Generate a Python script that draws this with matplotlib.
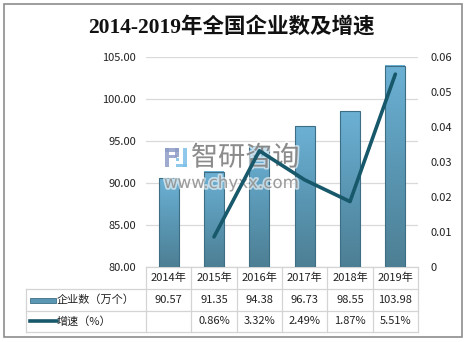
import numpy as np
import matplotlib.pyplot as plt
import matplotlib.patheffects as pe
from matplotlib.patches import Rectangle
from matplotlib.lines import Line2D
from matplotlib.colors import LinearSegmentedColormap

plt.rcParams['font.family'] = ['Noto Sans CJK SC', 'DejaVu Sans']

years = ['2014年', '2015年', '2016年', '2017年', '2018年', '2019年']
companies = [90.57, 91.35, 94.38, 96.73, 98.55, 103.98]   # 万个
growth = [None, 0.86, 3.32, 2.49, 1.87, 5.51]             # %
row_labels = ['企业数（万个）', '增速（%）']
title = '2014-2019年全国企业数及增速'

W, H = 466, 342
fig = plt.figure(figsize=(W / 100, H / 100), dpi=100)


def pixel_axes():
    a = fig.add_axes([0, 0, 1, 1])
    a.set_xlim(0, W)
    a.set_ylim(H, 0)
    a.axis('off')
    a.patch.set_alpha(0)
    return a


# pixel-space layer for frame, title and the data table
bg = pixel_axes()
bg.add_patch(Rectangle((3.5, 3.5), 458, 333, fill=False, ec='#8c8c8c', lw=1.2))
bg.text(231, 27, title, ha='center', va='center', fontsize=15.5, fontweight='bold',
        family=['Liberation Serif', 'Noto Sans CJK SC'], color='#111111')

left, right, top, bottom = 146, 418, 57, 267
ax = fig.add_axes([left / W, 1 - bottom / H, (right - left) / W, (bottom - top) / H])
ax.patch.set_alpha(0)

x = np.arange(len(years))
bars = ax.bar(x, companies, width=0.44, color='none', edgecolor='#3d6e83', lw=0.8, zorder=3)

# vertical gradient inside every bar
cmap = LinearSegmentedColormap.from_list('bar', ['#4d7f94', '#5a97b4', '#6cb1d5'])
grad = np.linspace(0, 1, 256).reshape(-1, 1)
for b in bars:
    ax.imshow(grad, cmap=cmap, origin='lower', aspect='auto', zorder=2,
              extent=(b.get_x(), b.get_x() + b.get_width(), 80, b.get_height()))

ax.set_xlim(-0.5, len(years) - 0.5)
ax.set_ylim(80, 105)
ax.set_yticks(np.arange(80, 106, 5))
ax.set_yticklabels([f'{v:.2f}' for v in np.arange(80, 106, 5)])
ax.set_xticks([])
ax.grid(axis='y', color='#d9d9d9', lw=0.9, zorder=0)
ax.tick_params(axis='y', length=0, pad=7, labelsize=8, labelcolor='#222222')
for s in ax.spines.values():
    s.set_visible(False)

# watermark layer, above the bars and below the growth line
wm = pixel_axes()
halo = [pe.withStroke(linewidth=2.5, foreground='white', alpha=0.6)]
gray_c, blue_c = '#8d9cc6', '#7cbfe8'
for rx, ry, rw, rh, c in [(165, 148, 4, 19, gray_c), (165, 148, 14, 3.5, gray_c),
                          (175, 148, 4, 9, gray_c), (169, 154.5, 8, 3, gray_c),
                          (183, 148, 4, 19, blue_c), (176, 163.5, 11, 3.5, blue_c),
                          (176, 158, 3, 3, blue_c)]:
    wm.add_patch(Rectangle((rx, ry), rw, rh, color=c, alpha=0.85, lw=0))
wm.text(191, 158, '智研咨询', fontsize=19.5, color='#7d7d7d', alpha=0.85,
        ha='left', va='center', path_effects=halo)
wm.text(164, 183, 'www.chyxx.com', fontsize=12, family='DejaVu Sans', color='#858585',
        alpha=0.75, ha='left', va='center', path_effects=halo)

ax2 = ax.twinx()
gx = [i for i, g in enumerate(growth) if g is not None]
gy = [growth[i] / 100 for i in gx]
ax2.plot(gx, gy, color='#17586b', lw=2.6, solid_capstyle='round', zorder=5)
ax2.set_ylim(0, 0.06)
ax2.set_yticks(np.arange(0, 0.061, 0.01))
ax2.set_yticklabels(['0'] + [f'{v:.2f}' for v in np.arange(0.01, 0.061, 0.01)])
ax2.tick_params(axis='y', length=0, pad=9, labelsize=8, labelcolor='#222222')
for s in ax2.spines.values():
    s.set_visible(False)

# data table below the plot
line_c = '#d4d4d4'
col_w = (right - left) / len(years)
rows_y = [267, 289, 311, 332]
bg.plot([left, right], [rows_y[0]] * 2, color=line_c, lw=0.9)
for yy in rows_y[1:]:
    bg.plot([26, right], [yy, yy], color=line_c, lw=0.9)
bg.plot([26, 26], [rows_y[1], rows_y[3]], color=line_c, lw=0.9)
for i in range(len(years) + 1):
    xx = left + i * col_w
    bg.plot([xx, xx], [rows_y[0], rows_y[3]], color=line_c, lw=0.9)

for i, yr in enumerate(years):
    cx = left + (i + 0.5) * col_w
    bg.text(cx, 278, yr, ha='center', va='center', fontsize=8, color='#222222')
    bg.text(cx, 300, f'{companies[i]:.2f}', ha='center', va='center', fontsize=8, color='#222222')
    if growth[i] is not None:
        bg.text(cx, 321.5, f'{growth[i]:.2f}%', ha='center', va='center', fontsize=8, color='#222222')

# legend keys in the row header cells
bg.add_patch(Rectangle((30, 297.5), 26, 5, fc='#5a97b4', ec='#3d6e83', lw=0.6))
bg.add_line(Line2D([30, 57], [321, 321], color='#17586b', lw=2.6))
bg.text(57, 300, row_labels[0], ha='left', va='center', fontsize=8, color='#222222')
bg.text(57, 321.5, row_labels[1], ha='left', va='center', fontsize=8, color='#222222')

fig.savefig('out.png', dpi=100)
